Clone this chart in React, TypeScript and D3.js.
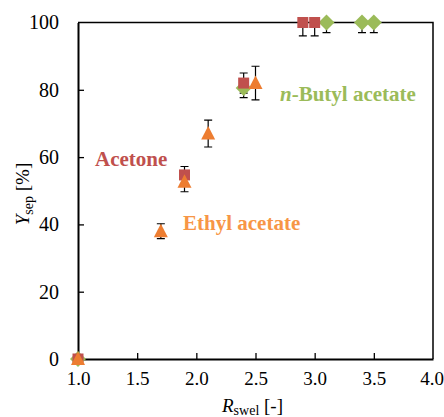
import React, { useEffect, useRef } from "react";
import * as d3 from "d3";

// values: [R_swel, Y_sep, error]
const acetone: [number, number, number][] = [
  [1.0, 0, 0],
  [1.9, 54.7, 2.5],
  [2.4, 82, 3],
  [2.9, 100, 4],
  [3.0, 100, 4],
];
const ethylAcetate: [number, number, number][] = [
  [1.0, 0, 0],
  [1.7, 38, 2.2],
  [1.9, 52.7, 3],
  [2.1, 67, 4],
  [2.5, 82, 5],
];
const butylAcetate: [number, number, number][] = [
  [1.0, 0, 0],
  [2.4, 80.5, 2.8],
  [3.1, 100, 3],
  [3.4, 100, 3],
  [3.5, 100, 3],
];
const xTicks = [1.0, 1.5, 2.0, 2.5, 3.0, 3.5, 4.0];
const yTicks = [0, 20, 40, 60, 80, 100];

const W = 444;
const H = 417;
const margin = { top: 22.5, right: 11, bottom: 58, left: 78 };
const font = "Liberation Serif";

export default function App() {
  const svgRef = useRef<SVGSVGElement>(null);

  useEffect(() => {
    const svg = d3.select(svgRef.current);
    svg.selectAll("*").remove();

    const x = d3.scaleLinear().domain([1, 4]).range([margin.left, W - margin.right]);
    const y = d3.scaleLinear().domain([0, 100]).range([H - margin.bottom, margin.top]);

    svg.append("defs").append("clipPath").attr("id", "plotclip")
      .append("rect")
      .attr("x", x(1) - 20).attr("y", y(100))
      .attr("width", x(4) - x(1) + 40).attr("height", y(0) - y(100));

    // frame (top and right)
    svg.append("path")
      .attr("d", `M${x(1)},${y(100)}H${x(4)}V${y(0)}`)
      .attr("fill", "none").attr("stroke", "#000").attr("stroke-width", 1.5);

    // axes with inward ticks
    const xAxis = svg.append("g").attr("transform", `translate(0,${y(0)})`)
      .call(d3.axisBottom(x).tickValues(xTicks).tickFormat(d3.format(".1f")).tickSizeInner(-6).tickSizeOuter(0).tickPadding(13));
    const yAxis = svg.append("g").attr("transform", `translate(${x(1)},0)`)
      .call(d3.axisLeft(y).tickValues(yTicks).tickSizeInner(-6).tickSizeOuter(0).tickPadding(19));
    [xAxis, yAxis].forEach((g) => {
      g.attr("font-family", font).attr("font-size", 20);
      g.select(".domain").attr("stroke-width", 2);
      g.selectAll(".tick line").attr("stroke-width", 1.3);
      g.selectAll(".tick text").attr("fill", "#000");
    });
    xAxis.attr("font-size", 19);
    xAxis.select(".tick:last-of-type text").attr("dx", -1.5);
    xAxis.selectAll(".tick:first-of-type line").remove();
    yAxis.selectAll(".tick:first-of-type line").remove();
    yAxis.selectAll(".tick:last-of-type line").remove();
    xAxis.selectAll(".tick:last-of-type line").remove();

    // error bars
    const eb = svg.append("g").attr("clip-path", "url(#plotclip)")
      .attr("stroke", "#000").attr("stroke-width", 1.2);
    [butylAcetate, acetone, ethylAcetate].forEach((series) => {
      series.filter((d) => d[2] > 0).forEach(([vx, vy, e]) => {
        const cx = x(vx);
        eb.append("line").attr("x1", cx).attr("x2", cx).attr("y1", y(vy - e)).attr("y2", y(vy + e));
        eb.append("line").attr("x1", cx - 4).attr("x2", cx + 4).attr("y1", y(vy - e)).attr("y2", y(vy - e));
        eb.append("line").attr("x1", cx - 4).attr("x2", cx + 4).attr("y1", y(vy + e)).attr("y2", y(vy + e));
      });
    });

    // markers
    const diamond = d3.symbol(d3.symbolSquare, 128)();
    svg.append("g").selectAll("path").data(butylAcetate).join("path")
      .attr("d", diamond)
      .attr("transform", (d) => `translate(${x(d[0])},${y(d[1])}) rotate(45)`)
      .attr("fill", "#9BBB59");
    svg.append("g").selectAll("rect").data(acetone).join("rect")
      .attr("x", (d) => x(d[0]) - 5.5).attr("y", (d) => y(d[1]) - 5.5)
      .attr("width", 11).attr("height", 11)
      .attr("fill", "#C0504D");
    svg.append("g").selectAll("path").data(ethylAcetate).join("path")
      .attr("d", (d) => {
        const cx = x(d[0]), cy = y(d[1]);
        return `M${cx},${cy - 7.5}L${cx + 7},${cy + 6}L${cx - 7},${cy + 6}Z`;
      })
      .attr("fill", "#ED7D31");

    // series labels
    const lab = (tx: number, ty: number, color: string) =>
      svg.append("text").attr("x", tx).attr("y", ty).attr("font-family", font)
        .attr("font-size", 21).attr("font-weight", "bold").attr("fill", color);
    lab(95, 166, "#C0504D").text("Acetone");
    lab(183, 230, "#F79646").text("Ethyl acetate");
    const nb = lab(280, 101, "#9BBB59");
    nb.append("tspan").attr("font-style", "italic").text("n");
    nb.append("tspan").text("-Butyl acetate");

    // axis titles
    const xt = svg.append("text").attr("x", 222).attr("y", 412)
      .attr("font-family", font).attr("font-size", 19).attr("fill", "#000");
    xt.append("tspan").attr("font-style", "italic").text("R");
    xt.append("tspan").attr("font-size", 14).attr("dy", 3).text("swel");
    xt.append("tspan").attr("dy", -3).text(" [-]");

    const yt = svg.append("text").attr("transform", `translate(29,${194}) rotate(-90)`)
      .attr("text-anchor", "middle")
      .attr("font-family", font).attr("font-size", 19).attr("fill", "#000");
    yt.append("tspan").attr("font-style", "italic").text("Y");
    yt.append("tspan").attr("font-size", 14).attr("dy", 4).text("sep");
    yt.append("tspan").attr("dy", -4).text(" [%]");
  }, []);

  return (
    <div style={{ position: "absolute", left: 0, top: 0 }}>
      <svg ref={svgRef} width={W} height={H} style={{ display: "block", background: "#fff" }} />
    </div>
  );
}
